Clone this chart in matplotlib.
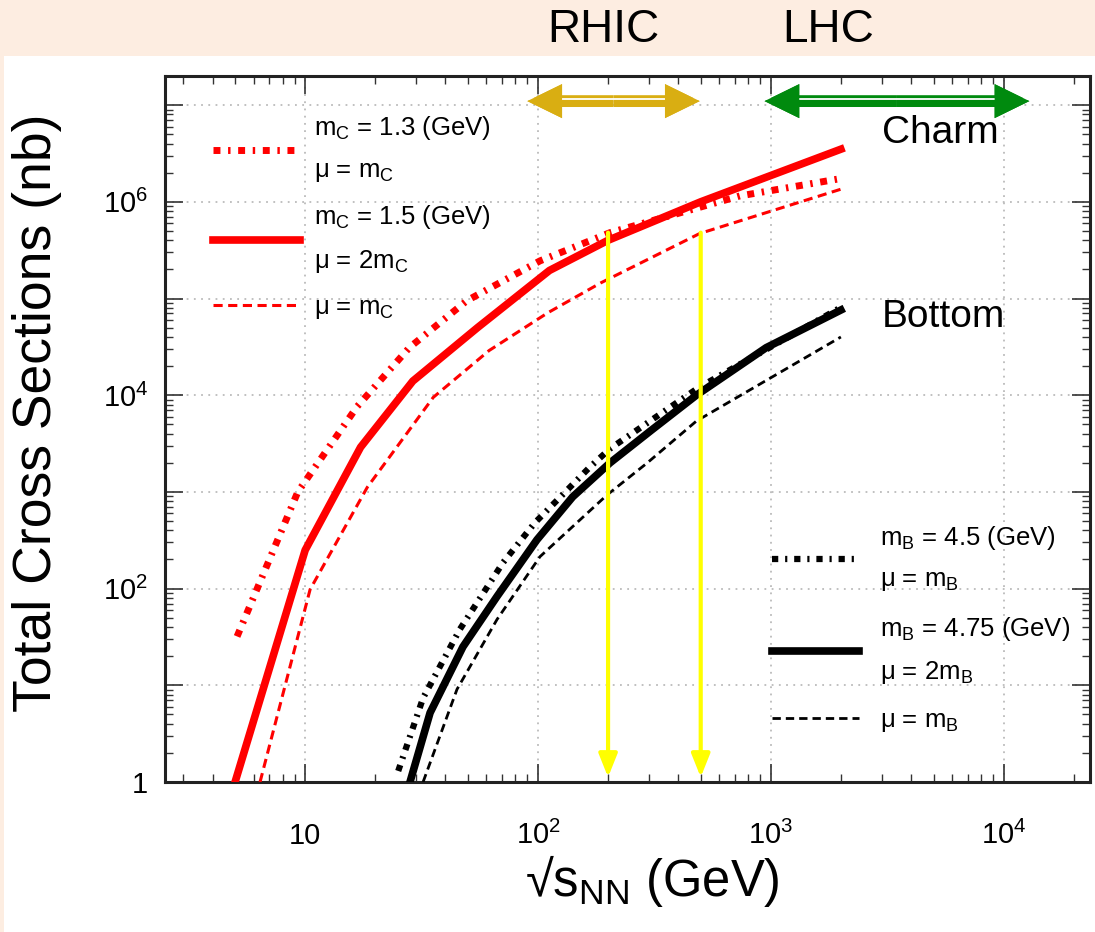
import numpy as np
import matplotlib
matplotlib.use('Agg')
import matplotlib.pyplot as plt
from matplotlib.ticker import FixedLocator, FixedFormatter, LogLocator, NullFormatter
from matplotlib.patches import FancyArrowPatch, Rectangle, ArrowStyle
from matplotlib.lines import Line2D
import matplotlib.transforms as mtransforms

plt.rcParams['font.family'] = ['Liberation Sans', 'DejaVu Sans']
plt.rcParams['mathtext.fontset'] = 'custom'
plt.rcParams['mathtext.rm'] = 'Liberation Sans'
plt.rcParams['mathtext.it'] = 'Liberation Sans:italic'
plt.rcParams['mathtext.bf'] = 'Liberation Sans:bold'
plt.rcParams['mathtext.sf'] = 'Liberation Sans'

# ---------------- data (sqrt(s_NN) in GeV, cross sections in nb) ----------------
charm_m13_mu1_x = [5.1, 9.3, 16.7, 28, 49.5, 102, 204, 736, 2000]
charm_m13_mu1_y = [32, 1000, 7600, 31000, 95000, 245000, 480000, 1.15e6, 1.74e6]
charm_m15_mu2_x = [5.0, 10, 17.3, 29, 55, 112, 200, 500, 2000]
charm_m15_mu2_y = [1, 250, 2900, 14000, 50000, 195000, 400000, 1.0e6, 3.5e6]
charm_m15_mu1_x = [6.4, 10.5, 18.5, 35.5, 61.7, 110, 186, 495, 2000]
charm_m15_mu1_y = [1, 98, 1120, 9500, 29000, 71000, 145000, 470000, 1.35e6]

bottom_m45_mu1_x = [25.1, 32.1, 46.2, 70.8, 97, 166, 204, 490, 2000]
bottom_m45_mu1_y = [1.3, 7.4, 38, 186, 480, 1780, 2800, 12000, 81000]
bottom_m475_mu2_x = [28.2, 34.4, 47.6, 66.7, 99, 141, 204, 309, 479, 955, 2000]
bottom_m475_mu2_y = [1, 5.2, 25, 83, 320, 890, 2000, 4400, 10000, 31000, 76000]
bottom_m475_mu1_x = [32.1, 44.9, 66.7, 102, 198, 295, 479, 2000]
bottom_m475_mu1_y = [1, 9.1, 48, 214, 930, 2000, 5400, 40000]

rhic_energies = [200, 500]          # yellow arrows
rhic_arrow_top = 4.8e5
arrow_bottom = 1.12
rhic_range = [90, 495]
lhc_range = [940, 12900]
range_y = 1.1e7

x_ticks = [10, 100, 1000, 10000]
x_tick_labels = ['10', r'$\mathdefault{10^{2}}$', r'$\mathdefault{10^{3}}$', r'$\mathdefault{10^{4}}$']
y_ticks = [1, 10, 1e2, 1e3, 1e4, 1e5, 1e6, 1e7]
y_tick_labels = ['1', '', r'$\mathdefault{10^{2}}$', '', r'$\mathdefault{10^{4}}$', '',
                 r'$\mathdefault{10^{6}}$', '']

charm_labels = ['m$_\\mathrm{C}$ = 1.3 (GeV)\nμ = m$_\\mathrm{C}$',
                'm$_\\mathrm{C}$ = 1.5 (GeV)\nμ = 2m$_\\mathrm{C}$',
                'μ = m$_\\mathrm{C}$']
bottom_labels = ['m$_\\mathrm{B}$ = 4.5 (GeV)\nμ = m$_\\mathrm{B}$',
                 'm$_\\mathrm{B}$ = 4.75 (GeV)\nμ = 2m$_\\mathrm{B}$',
                 'μ = m$_\\mathrm{B}$']

# ---------------- figure ----------------
W, H = 1095, 932
fig = plt.figure(figsize=(W / 100, H / 100), dpi=100)
fig.patch.set_facecolor('#FDEDE1')
fig.add_artist(Rectangle((4 / W, 0), 1, 1 - 56 / H, transform=fig.transFigure,
                         facecolor='white', edgecolor='none', zorder=-10))

L, R, T, B = 165, 1090, 76, 782
ax = fig.add_axes([L / W, (H - B) / H, (R - L) / W, (B - T) / H])
ax.set_facecolor('white')
ax.set_xscale('log')
ax.set_yscale('log')
ax.set_xlim(2.5, 2.35e4)
ax.set_ylim(1, 2.0e7)

dashdot = (0, (1.0, 1.1, 0.35, 1.1))
dashed = (0, (3.0, 1.8))

red = '#FF0000'
st_r1 = dict(color=red, lw=5, ls=dashdot, dash_capstyle='butt')
st_r2 = dict(color=red, lw=5.5, ls='-', solid_joinstyle='round')
st_r3 = dict(color=red, lw=2.2, ls=dashed, dash_capstyle='butt')
st_b1 = dict(color='black', lw=4.5, ls=dashdot, dash_capstyle='butt')
st_b2 = dict(color='black', lw=5.5, ls='-', solid_joinstyle='round')
st_b3 = dict(color='black', lw=2.0, ls=dashed, dash_capstyle='butt')

ax.plot(charm_m13_mu1_x, charm_m13_mu1_y, **st_r1, zorder=3)
ax.plot(charm_m15_mu2_x, charm_m15_mu2_y, **st_r2, zorder=3)
ax.plot(charm_m15_mu1_x, charm_m15_mu1_y, **st_r3, zorder=3)
ax.plot(bottom_m45_mu1_x, bottom_m45_mu1_y, **st_b1, zorder=3)
ax.plot(bottom_m475_mu2_x, bottom_m475_mu2_y, **st_b2, zorder=3)
ax.plot(bottom_m475_mu1_x, bottom_m475_mu1_y, **st_b3, zorder=3)

# yellow arrows
for e in rhic_energies:
    ax.annotate('', xy=(e, arrow_bottom), xytext=(e, rhic_arrow_top),
                arrowprops=dict(arrowstyle=ArrowStyle('-|>', head_length=0.7, head_width=0.28),
                                color='#FFFF00', lw=3, mutation_scale=20,
                                shrinkA=0, shrinkB=0), zorder=4)

# double arrows for collider ranges
def double_arrow(x0, x1, y, color):
    m = np.sqrt(x0 * x1)
    full = ArrowStyle.Simple(head_length=2.5, head_width=2.45, tail_width=0.85)
    heads = ArrowStyle.Simple(head_length=2.5, head_width=2.45, tail_width=0.01)
    for end in (x0, x1):
        ax.add_patch(FancyArrowPatch((m, y), (end, y), arrowstyle=full, mutation_scale=10,
                                     color=color, lw=0, shrinkA=0, shrinkB=0, zorder=5))
    off = mtransforms.offset_copy(ax.transData, fig=fig, x=0, y=1.5, units='points')
    ax.plot([x0, x1], [y, y], color='white', lw=1.3, transform=off, zorder=6)
    for end in (x0, x1):
        ax.add_patch(FancyArrowPatch((m, y), (end, y), arrowstyle=heads, mutation_scale=10,
                                     color=color, lw=0, shrinkA=0, shrinkB=0, zorder=7))

double_arrow(rhic_range[0], rhic_range[1], range_y, '#D9AE12')
double_arrow(lhc_range[0], lhc_range[1], range_y, '#008A0E')

# ticks
ax.xaxis.set_major_locator(FixedLocator(x_ticks))
ax.xaxis.set_major_formatter(FixedFormatter(x_tick_labels))
ax.xaxis.set_minor_locator(LogLocator(base=10, subs=np.arange(2, 10), numticks=20))
ax.xaxis.set_minor_formatter(NullFormatter())
ax.yaxis.set_major_locator(FixedLocator(y_ticks))
ax.yaxis.set_major_formatter(FixedFormatter(y_tick_labels))
ax.yaxis.set_minor_locator(LogLocator(base=10, subs=np.arange(2, 10), numticks=20))
ax.yaxis.set_minor_formatter(NullFormatter())

ax.tick_params(which='both', direction='in', top=True, right=True, color='#333333')
ax.tick_params(which='major', length=13, width=1.2)
ax.tick_params(which='minor', length=6, width=1.0)
ax.tick_params(axis='x', which='major', labelsize=21, pad=45)
ax.tick_params(axis='y', which='major', labelsize=21, pad=12)
for lab in ax.get_xticklabels():
    lab.set_verticalalignment('baseline')

for s in ax.spines.values():
    s.set_linewidth(2.2)
    s.set_color('#222222')

ax.grid(True, which='major', color='#BBBBBB', linestyle=(0, (1, 3)), lw=1.3, zorder=0)
ax.set_axisbelow(True)

ax.set_xlabel('√s$_\\mathrm{NN}$ (GeV)', fontsize=36.5)
ax.xaxis.set_label_coords((652 - L) / (R - L), (B - 853) / (B - T))
ax.set_ylabel('Total Cross Sections (nb)', fontsize=38.5)
ax.yaxis.set_label_coords((62 - L) / (R - L), (B - 413) / (B - T))

ax.text(2990, 5.1e6, 'Charm', fontsize=28, va='center', ha='left', zorder=8)
ax.text(2990, 6.5e4, 'Bottom', fontsize=28, va='center', ha='left', zorder=8)

fig.text(603 / W, 1 - 30 / H, 'RHIC', fontsize=33, ha='center', va='center')
fig.text(828 / W, 1 - 30 / H, 'LHC', fontsize=33, ha='center', va='center')

# legends
h_c = [Line2D([], [], **st_r1), Line2D([], [], **st_r2), Line2D([], [], **st_r3)]
h_b = [Line2D([], [], **st_b1), Line2D([], [], **st_b2), Line2D([], [], **st_b3)]
leg1 = ax.legend(h_c, charm_labels, loc='upper left',
                 bbox_to_anchor=((213 - L) / (R - L), (B - 114) / (B - T)),
                 frameon=False, fontsize=18.5, handlelength=3.4, handletextpad=0.55,
                 labelspacing=0.75, borderpad=0, borderaxespad=0)
for t in leg1.get_texts():
    t.set_linespacing(1.85)
ax.add_artist(leg1)
leg2 = ax.legend(h_b, bottom_labels, loc='upper left',
                 bbox_to_anchor=((772 - L) / (R - L), (B - 524) / (B - T)),
                 frameon=False, fontsize=18.5, handlelength=3.4, handletextpad=0.8,
                 labelspacing=0.85, borderpad=0, borderaxespad=0)
for t in leg2.get_texts():
    t.set_linespacing(1.8)

fig.savefig('out.png', dpi=100, facecolor=fig.get_facecolor())
